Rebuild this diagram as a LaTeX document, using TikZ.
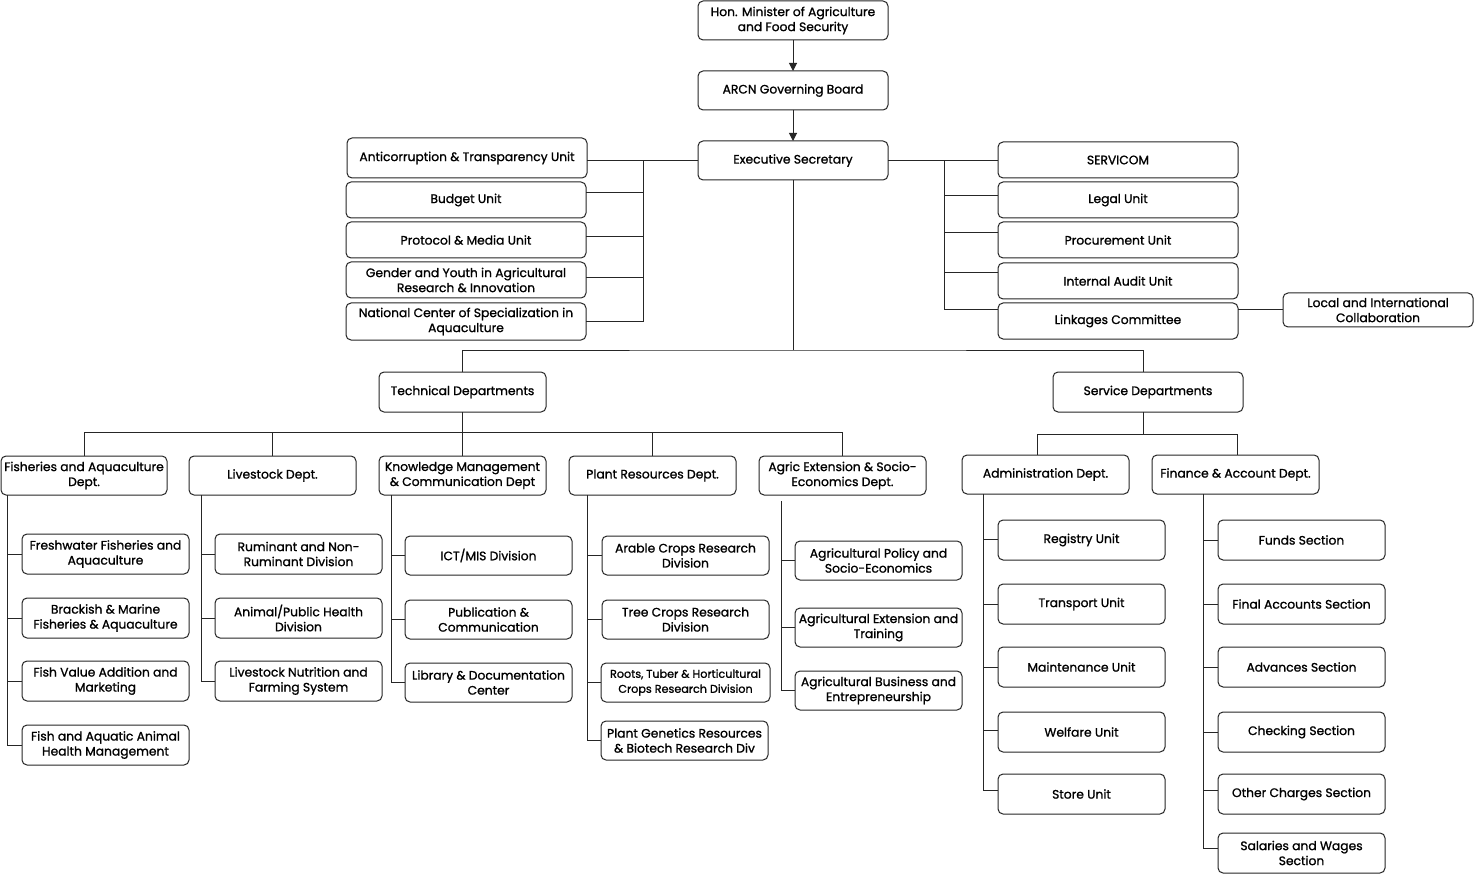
\documentclass[tikz,border=0pt]{standalone}
\usepackage{fontspec}
\setmainfont{Poppins}[UprightFeatures={FakeBold=1.1}]
\usetikzlibrary{arrows.meta}
\tikzset{
  box/.style={draw=black!85, line width=1pt, rounded corners=5pt, align=center,
    inner sep=0pt, outer sep=0pt, font=\fontsize{12.3}{15}\selectfont, text=black},
  small/.style={font=\fontsize{11.2}{15}\selectfont},
  ln/.style={draw=black!85, line width=1pt},
  arr/.style={ln, -{Triangle[length=8pt,width=8pt]}}
}
\newcommand\ob[7][]{\node[box,#1, minimum width={#5-#3}, minimum height={#6-#4}] (#2) at ({(#3+#5)/2},{(#4+#6)/2}) {#7};}
\begin{document}
\begin{tikzpicture}[x=1pt,y=-1pt]
\useasboundingbox (0,0) rectangle (1474,874);
\fill[white] (0,0) rectangle (1474,874);
% top
\ob{min}{698}{1}{888}{40}{Hon. Minister of Agriculture\\and Food Security}
\ob{arcn}{698}{71}{888}{110}{ARCN Governing Board}
\ob{exec}{698}{141}{888}{180}{Executive Secretary}
% left units
\ob{anti}{347}{138}{587}{178}{Anticorruption \& Transparency Unit}
\ob{budget}{346}{182}{586}{218}{Budget Unit}
\ob{proto}{346}{222}{586}{258}{Protocol \& Media Unit}
\ob{gender}{346}{262}{586}{298}{Gender and Youth in Agricultural\\Research \& Innovation}
\ob{natl}{346}{303}{586}{340}{National Center of Specialization in\\Aquaculture}
% right units
\ob{servicom}{998}{142}{1238}{178}{SERVICOM}
\ob{legal}{998}{182}{1238}{218}{Legal Unit}
\ob{proc}{998}{222}{1238}{258}{Procurement Unit}
\ob{audit}{998}{263}{1238}{299}{Internal Audit Unit}
\ob{link}{998}{303}{1238}{339}{Linkages Committee}
\ob{local}{1283}{293}{1473}{327}{Local and International\\Collaboration}
% departments
\ob{tech}{379}{372}{546}{412}{Technical Departments}
\ob{serv}{1053}{372}{1243}{412}{Service Departments}
\ob{fish}{1}{456}{167}{495}{Fisheries and Aquaculture\\Dept.}
\ob{live}{189}{456}{356}{495}{Livestock Dept.}
\ob{know}{379}{456}{546}{495}{Knowledge Management\\\& Communication Dept}
\ob{plant}{569}{456}{736}{495}{Plant Resources Dept.}
\ob{agext}{759}{456}{926}{495}{Agric Extension \& Socio-\\Economics Dept.}
\ob{admin}{962}{455}{1129}{494}{Administration Dept.}
\ob{fin}{1152}{455}{1319}{494}{Finance \& Account Dept.}
% fisheries children
\ob{f1}{22}{534}{189}{574}{Freshwater Fisheries and\\Aquaculture}
\ob{f2}{22}{598}{189}{638}{Brackish \& Marine\\Fisheries \& Aquaculture}
\ob{f3}{22}{661}{189}{701}{Fish Value Addition and\\Marketing}
\ob{f4}{22}{725}{189}{765}{Fish and Aquatic Animal\\Health Management}
% livestock children
\ob{l1}{215}{534}{382}{574}{Ruminant and Non-\\Ruminant Division}
\ob{l2}{215}{598}{382}{638}{Animal/Public Health\\Division}
\ob{l3}{215}{661}{382}{701}{Livestock Nutrition and\\Farming System}
% knowledge children
\ob{k1}{405}{536}{572}{575}{ICT/MIS Division}
\ob{k2}{405}{600}{572}{639}{Publication \&\\Communication}
\ob{k3}{405}{663}{572}{702}{Library \& Documentation\\Center}
% plant children
\ob{p1}{602}{536}{769}{575}{Arable Crops Research\\Division}
\ob{p2}{602}{600}{769}{639}{Tree Crops Research\\Division}
\ob[small]{p3}{601}{663}{770}{702}{Roots, Tuber \& Horticultural\\Crops Research Division}
\ob{p4}{601}{721}{768}{760}{Plant Genetics Resources\\\& Biotech Research Div}
% agric ext children
\ob{a1}{795}{541}{962}{580}{Agricultural Policy and\\Socio-Economics}
\ob{a2}{795}{608}{962}{647}{Agricultural Extension and\\Training}
\ob{a3}{795}{671}{962}{710}{Agricultural Business and\\Entrepreneurship}
% admin children
\ob{d1}{998}{520}{1165}{560}{Registry Unit}
\ob{d2}{998}{584}{1165}{624}{Transport Unit}
\ob{d3}{998}{647}{1165}{687}{Maintenance Unit}
\ob{d4}{998}{712}{1165}{752}{Welfare Unit}
\ob{d5}{998}{774}{1165}{814}{Store Unit}
% finance children
\ob{c1}{1218}{520}{1385}{560}{Funds Section}
\ob{c2}{1218}{584}{1385}{624}{Final Accounts Section}
\ob{c3}{1218}{647}{1385}{687}{Advances Section}
\ob{c4}{1218}{712}{1385}{752}{Checking Section}
\ob{c5}{1218}{774}{1385}{814}{Other Charges Section}
\ob{c6}{1218}{833}{1385}{873}{Salaries and Wages\\Section}

% ---- connectors ----
\draw[arr] (min) -- (arcn);
\draw[arr] (arcn) -- (exec);
% left staff units
\coordinate (lT) at (643,0);
\draw[ln] (exec.west) -- (exec.west -| anti.east);
\draw[ln] (exec.west -| lT) |- (natl.east);
\draw[ln] ([yshift=7pt]budget.east) -- ([yshift=7pt]budget.east -| lT);
\draw[ln] ([yshift=3pt]proto.east) -- ([yshift=3pt]proto.east -| lT);
\draw[ln] ([yshift=2pt]gender.east) -- ([yshift=2pt]gender.east -| lT);
% right staff units
\coordinate (rT) at (944,0);
\draw[ln] (exec.east) -- (exec.east -| servicom.west);
\draw[ln] (exec.east -| rT) |- ([yshift=11pt]link.west);
\draw[ln] ([yshift=4pt]legal.west) -- ([yshift=4pt]legal.west -| rT);
\draw[ln] ([yshift=7pt]proc.west) -- ([yshift=7pt]proc.west -| rT);
\draw[ln] ([yshift=8pt]audit.west) -- ([yshift=8pt]audit.west -| rT);
\draw[ln] ([yshift=11pt]link.east) -- (local.west);
% main split
\coordinate (hub) at (793,350);
\coordinate (sv) at ([xshift=-5pt]serv.north);
\draw[ln] (exec.south) -- (hub);
\draw[ln] (tech.north) |- (hub) -| (sv);
% technical row
\coordinate (trow) at (0,432);
\draw[ln] (tech.south) -- (tech.south |- trow);
\draw[ln] (fish.north) -- (fish.north |- trow) -- (agext.north |- trow) -- (agext.north);
\foreach \d in {live,know,plant} \draw[ln] (\d.north) -- (\d.north |- trow);
% service row
\coordinate (srow) at (0,434);
\coordinate (sa) at ([xshift=-8pt]admin.north);
\coordinate (sf) at ([xshift=2pt]fin.north);
\draw[ln] ([xshift=-5pt]serv.south) -- ([xshift=-5pt]serv.south |- srow);
\draw[ln] (sa) -- (sa |- srow) -- (sf |- srow) -- (sf);
% children trunks
\coordinate (fT) at ([xshift=6pt]fish.south west);
\draw[ln] (fT) |- (f4.west);
\foreach \c in {f1,f2,f3} \draw[ln] (\c.west) -- (\c.west -| fT);
\coordinate (lvT) at ([xshift=12pt]live.south west);
\draw[ln] (lvT) |- (l3.west);
\foreach \c in {l1,l2} \draw[ln] (\c.west) -- (\c.west -| lvT);
\coordinate (kT) at ([xshift=12pt]know.south west);
\draw[ln] (kT) |- (k3.west);
\foreach \c in {k1,k2} \draw[ln] (\c.west) -- (\c.west -| kT);
\coordinate (pT) at ([xshift=18pt]plant.south west);
\draw[ln] (pT) |- (p4.west);
\foreach \c in {p1,p2,p3} \draw[ln] (\c.west) -- (\c.west -| pT);
\coordinate (aT) at ([xshift=22pt,yshift=-6pt]agext.south west);
\draw[ln] (aT) |- (a3.west);
\foreach \c in {a1,a2} \draw[ln] (\c.west) -- (\c.west -| aT);
\coordinate (dT) at ([xshift=21pt]admin.south west);
\draw[ln] (dT) |- ([yshift=4pt]d5.west);
\draw[ln] ([yshift=1pt]d1.west) -- ([yshift=1pt]d1.west -| dT);
\draw[ln] ([yshift=2pt]d4.west) -- ([yshift=2pt]d4.west -| dT);
\foreach \c in {d2,d3} \draw[ln] (\c.west) -- (\c.west -| dT);
\coordinate (cT) at ([xshift=51pt]fin.south west);
\draw[ln] (cT) |- ([yshift=5pt]c6.west);
\foreach \c in {c1,c2,c3,c4} \draw[ln] (\c.west) -- (\c.west -| cT);
\draw[ln] ([yshift=4pt]c5.west) -- ([yshift=4pt]c5.west -| cT);
\end{tikzpicture}
\end{document}
